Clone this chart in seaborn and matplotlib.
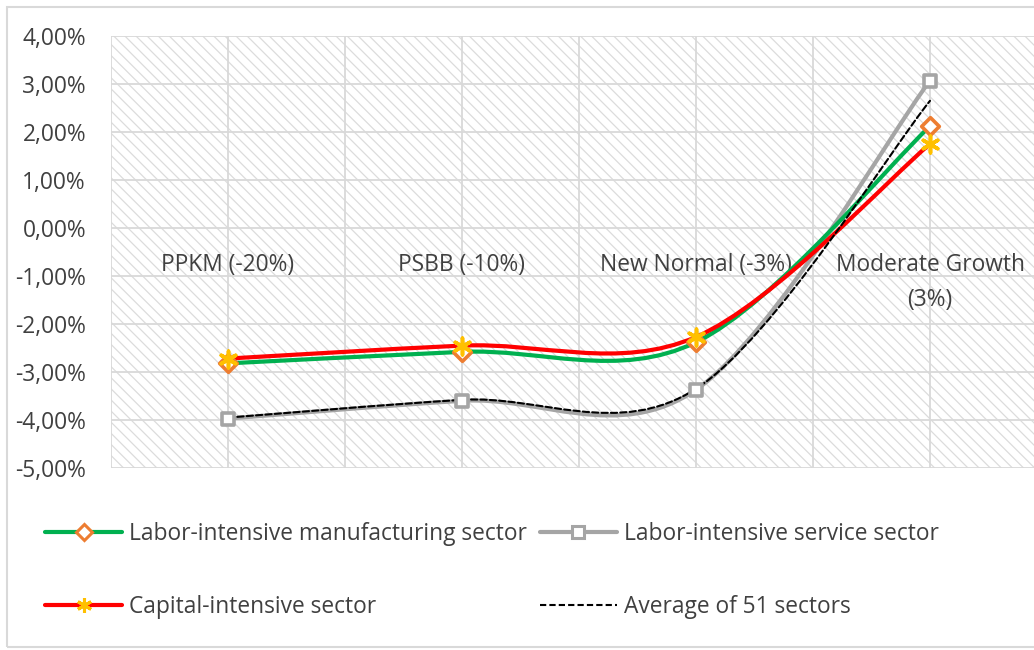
import numpy as np
import pandas as pd
import seaborn as sns
import matplotlib.pyplot as plt
from matplotlib.path import Path
from matplotlib.patches import PathPatch, Rectangle
from matplotlib.lines import Line2D
from matplotlib.ticker import FuncFormatter

# data (percent)
scenarios = ['PPKM (-20%)', 'PSBB (-10%)', 'New Normal (-3%)', 'Moderate Growth\n(3%)']
manufacturing = [-2.82, -2.58, -2.38, 2.12]
service = [-3.97, -3.60, -3.37, 3.07]
capital = [-2.72, -2.45, -2.27, 1.75]
average = [-3.95, -3.58, -3.35, 2.65]
y_ticks = [-5, -4, -3, -2, -1, 0, 1, 2, 3, 4]

sns.set_theme(style='white')
plt.rcParams['font.family'] = ['Open Sans', 'DejaVu Sans']
plt.rcParams['hatch.linewidth'] = 0.9
txt = '#404040'
fs = 16.4


# smooth line like Excel (catmull-rom -> bezier)
def smooth_path(xs, ys):
    p = np.column_stack([xs, ys]).astype(float)
    n = len(p)
    verts = [p[0]]
    codes = [Path.MOVETO]
    for i in range(n - 1):
        p0 = p[max(i - 1, 0)]
        p3 = p[min(i + 2, n - 1)]
        c1 = p[i] + (p[i + 1] - p0) / 6
        c2 = p[i + 1] - (p3 - p[i]) / 6
        verts += [c1, c2, p[i + 1]]
        codes += [Path.CURVE4] * 3
    return Path(verts, codes)


fig = plt.figure(figsize=(10.34, 6.5), dpi=100)
ax = fig.add_axes([111 / 1034, 1 - 468 / 650, 936 / 1034, 432 / 650])
ax.patch.set_facecolor('white')
# hatched plot area
ax.add_patch(Rectangle((0, 0), 1, 1, transform=ax.transAxes, facecolor='white',
                       edgecolor='#dcdcdc', hatch='\\\\\\', lw=0, zorder=0))

x = np.arange(len(scenarios))
df = pd.DataFrame({'x': x, 'manu': manufacturing, 'serv': service,
                   'cap': capital, 'avg': average})

series = [
    ('serv', 'Labor-intensive service sector', '#a5a5a5', 3.0, '-', 's', 'white', '#a5a5a5', 9),
    ('manu', 'Labor-intensive manufacturing sector', '#00b050', 3.0, '-', 'D', 'white', '#ed7d31', 9),
    ('cap', 'Capital-intensive sector', '#ff0000', 3.0, '-', (6, 2, 0), '#ffc000', '#ffc000', 12),
    ('avg', 'Average of 51 sectors', 'black', 1.5, (0, (3, 1.5)), None, None, None, 0),
]

handles = {}
for key, label, col, lw, ls, mk, mfc, mec, ms in series:
    ax.add_patch(PathPatch(smooth_path(df['x'], df[key]), fill=False,
                           edgecolor=col, lw=lw, linestyle=ls, zorder=3,
                           capstyle='round'))
    if mk is not None:
        sns.scatterplot(data=df, x='x', y=key, ax=ax, marker=mk, s=ms ** 2,
                        facecolor=mfc, edgecolor=mec, linewidth=2.6, zorder=4,
                        legend=False)
    handles[key] = Line2D([], [], color=col, lw=lw, linestyle=ls, marker=mk,
                          markerfacecolor=mfc, markeredgecolor=mec,
                          markeredgewidth=2.2, markersize=ms * 0.9, label=label)

ax.spines['bottom'].set_position(('data', 0))
for s in ax.spines.values():
    s.set_visible(False)
ax.set_xlim(-0.5, 3.5)
ax.set_ylim(-5, 4)
ax.set_xticks(x)
ax.set_xticks(np.arange(-0.5, 3.6, 0.5), minor=True)
ax.set_xticklabels(scenarios, fontsize=fs, color=txt, linespacing=1.6)
ax.set_yticks(y_ticks)
ax.yaxis.set_major_formatter(FuncFormatter(lambda v, p: f'{v:.2f}%'.replace('.', ',')))
ax.tick_params(axis='y', labelsize=fs, labelcolor=txt, length=0, pad=18)
ax.tick_params(axis='x', which='both', length=0, pad=18)
ax.grid(True, which='both', color='#d9d9d9', lw=1.3)
ax.set_axisbelow(True)
ax.set_xlabel('')
ax.set_ylabel('')

fig.legend(handles=[handles['manu'], handles['cap'], handles['serv'], handles['avg']],
           ncol=2, loc='upper left', bbox_to_anchor=(45 / 1034, 1 - 522 / 650),
           frameon=False, fontsize=fs, labelcolor=txt, handlelength=3.4,
           handletextpad=0.3, columnspacing=0.55, labelspacing=2.13,
           borderaxespad=0, borderpad=0)

fig.add_artist(Rectangle((7 / 1034, 3 / 650), 1040 / 1034, 640 / 650,
                         transform=fig.transFigure, fill=False,
                         edgecolor='#d9d9d9', lw=1.5))

fig.savefig('out.png', dpi=100)
